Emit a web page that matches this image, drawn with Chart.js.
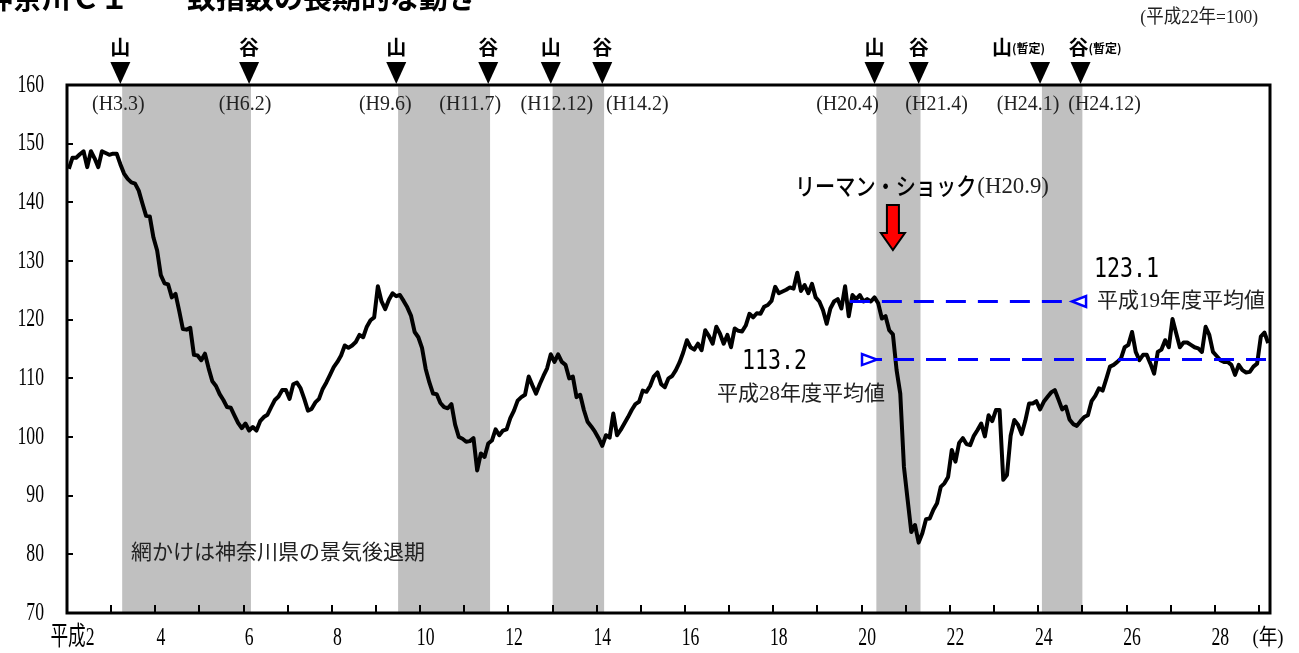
<!DOCTYPE html>
<html lang="ja">
<head>
<meta charset="utf-8">
<title>神奈川ＣＩ　一致指数の長期的な動き</title>
<script src="https://cdn.jsdelivr.net/npm/chart.js@4.4.0/dist/chart.umd.min.js"></script>
<style>
  html, body { margin: 0; padding: 0; background: #fff; }
</style>
</head>
<body>
<canvas id="ciChart" width="1299" height="653"></canvas>
<script>
// 神奈川ＣＩ一致指数（平成22年=100）月次、平成2年1月〜平成29年3月
const h02 = [145.7, 147.6, 147.6, 148.2, 148.7, 146.0, 148.7, 147.5, 146.0, 148.7, 148.4, 148.1];
const h03 = [148.3, 148.3, 146.5, 144.9, 144.0, 143.4, 143.2, 142.0, 139.8, 137.7, 137.6, 134.0];
const h04 = [131.8, 127.6, 126.2, 126.0, 123.8, 124.4, 121.5, 118.4, 118.3, 118.6, 114.0, 113.9];
const h05 = [113.1, 114.2, 111.7, 109.5, 108.7, 107.3, 106.3, 105.1, 105.0, 103.7, 102.4, 101.5];
const h06 = [102.3, 101.1, 101.7, 101.1, 102.7, 103.4, 103.8, 105.1, 106.3, 106.9, 108.0, 108.0];
const h07 = [106.5, 109.0, 109.3, 108.3, 106.5, 104.5, 104.8, 105.9, 106.5, 108.2, 109.3, 110.6];
const h08 = [111.9, 112.8, 113.9, 115.6, 115.2, 115.6, 116.2, 117.4, 117.0, 118.8, 119.9, 120.4];
const h09 = [125.7, 123.1, 121.8, 123.4, 124.5, 124.0, 124.2, 123.2, 122.1, 120.7, 117.9, 117.0];
const h10 = [115.2, 111.6, 109.3, 107.4, 107.3, 105.8, 105.1, 104.9, 105.6, 102.1, 100.0, 99.7];
const h11 = [99.2, 99.3, 99.8, 94.3, 97.2, 96.6, 98.9, 99.4, 101.3, 100.3, 101.1, 101.3];
const h12 = [103.2, 104.5, 106.2, 106.8, 107.2, 110.3, 108.8, 107.4, 109.0, 110.4, 111.7, 114.1];
const h13 = [112.8, 114.1, 112.8, 112.3, 110.0, 110.3, 106.8, 107.2, 104.6, 102.6, 101.8, 100.9];
const h14 = [99.8, 98.5, 100.3, 99.9, 104.0, 100.3, 101.2, 102.3, 103.4, 104.6, 105.6, 106.0];
const h15 = [107.9, 107.7, 108.7, 110.3, 111.0, 109.0, 108.5, 110.0, 110.4, 111.4, 112.7, 114.4];
const h16 = [116.5, 115.3, 114.9, 115.9, 114.8, 118.2, 117.2, 115.9, 118.8, 117.6, 115.9, 117.4];
const h17 = [115.3, 118.5, 118.1, 118.0, 119.0, 121.0, 120.4, 121.1, 121.0, 122.2, 122.5, 123.2];
const h18 = [125.6, 124.5, 124.8, 125.1, 125.5, 125.3, 128.0, 124.9, 125.9, 124.5, 126.1, 123.8];
const h19 = [123.1, 121.6, 119.3, 121.9, 123.1, 123.5, 121.9, 125.7, 120.6, 124.2, 123.5, 124.2];
const h20 = [123.1, 123.5, 123.1, 123.8, 122.8, 120.2, 120.6, 118.2, 117.5, 111.4, 107.4, 94.9];
const h21 = [89.3, 83.8, 85.0, 82.0, 83.6, 86.0, 86.1, 87.6, 88.7, 91.5, 92.1, 93.2];
const h22 = [97.8, 95.8, 99.0, 99.8, 98.8, 98.6, 100.2, 101.2, 102.3, 100.1, 103.7, 102.7];
const h23 = [104.6, 104.6, 92.7, 93.5, 100.2, 102.9, 102.1, 100.5, 102.8, 105.7, 105.7, 106.1];
const h24 = [104.7, 106.0, 106.8, 107.6, 108.0, 106.4, 104.7, 105.2, 103.0, 102.2, 101.9, 102.7];
const h25 = [103.4, 103.7, 106.1, 107.0, 108.3, 107.9, 109.9, 112.0, 112.3, 112.8, 113.4, 115.3];
const h26 = [115.7, 117.9, 114.5, 113.1, 114.0, 114.0, 112.5, 110.8, 114.5, 114.9, 116.5, 115.3];
const h27 = [120.1, 117.7, 115.3, 116.1, 116.1, 115.7, 115.3, 115.1, 114.5, 118.8, 117.4, 114.5];
const h28 = [113.8, 113.1, 112.8, 112.8, 112.3, 110.6, 112.3, 111.4, 111.0, 111.1, 112.0, 112.5];
const h29 = [117.1, 117.8, 116.0];

// 景気の山・谷（平成2年1月を0とする月番号）
const turnKinds = ['山', '谷', '山', '谷', '山', '谷', '山', '谷', '山', '谷'];
const turnDates = ['(H3.3)', '(H6.2)', '(H9.6)', '(H11.7)', '(H12.12)', '(H14.2)', '(H20.4)', '(H21.4)', '(H24.1)', '(H24.12)'];
const turnMonths = [14, 49, 89, 114, 131, 145, 219, 231, 264, 275];
const turnProvisional = [false, false, false, false, false, false, false, false, true, true];

// 年度平均値
const fyAverages = [123.1, 113.2];
const fyAverageNames = ['平成19年度平均値', '平成28年度平均値'];

// 軸
const yTicks = [70, 80, 90, 100, 110, 120, 130, 140, 150, 160];
const xLabelYears = [2, 4, 6, 8, 10, 12, 14, 16, 18, 20, 22, 24, 26, 28];
const lehmanMonth = 224; // H20.9

const ciValues = [].concat(h02, h03, h04, h05, h06, h07, h08, h09, h10, h11, h12, h13, h14,
  h15, h16, h17, h18, h19, h20, h21, h22, h23, h24, h25, h26, h27, h28, h29);

// layout of the average guide lines, in month units (start, end, arrow tip, arrow base)
const avgLineLayout = [
  { from: 212.3, to: 276.5, tip: 272.7, base: 276.5 },
  { from: 215.6, to: 326, tip: 219.7, base: 215.6 }
];
const dateShift = [-2, -4, -11, -18, 6, 35, -27, 18, -12, 24];

const SERIF = '"Liberation Serif", "Noto Sans CJK JP", serif';
const GOTHIC = '"Noto Sans CJK JP", sans-serif';

function drawText(ctx, text, x, y, font, opts = {}) {
  ctx.save();
  ctx.font = font;
  ctx.fillStyle = opts.color || '#000';
  ctx.textAlign = opts.align || 'left';
  ctx.textBaseline = opts.baseline || 'middle';
  ctx.translate(x, y);
  ctx.scale(opts.sx || 1, 1);
  ctx.fillText(text, 0, 0);
  ctx.restore();
}

const decorations = {
  id: 'decorations',
  beforeDatasetsDraw(chart) {
    const { ctx, chartArea: a, scales: { x } } = chart;
    // recession shading
    ctx.save();
    ctx.fillStyle = '#c0c0c0';
    for (let k = 0; k < turnMonths.length; k += 2) {
      const x0 = x.getPixelForValue(turnMonths[k] + 0.5);
      const x1 = x.getPixelForValue(turnMonths[k + 1] + 0.5);
      ctx.fillRect(x0, a.top, x1 - x0, a.bottom - a.top);
    }
    ctx.restore();
  },
  afterDatasetsDraw(chart) {
    const { ctx, chartArea: a, scales: { x, y } } = chart;

    // open arrow heads on the average lines
    ctx.save();
    ctx.strokeStyle = '#0000ff';
    ctx.fillStyle = '#fff';
    ctx.lineWidth = 2.5;
    avgLineLayout.forEach((l, k) => {
      const py = y.getPixelForValue(fyAverages[k]);
      const tx = x.getPixelForValue(l.tip);
      const bx = x.getPixelForValue(l.base);
      ctx.beginPath();
      ctx.moveTo(tx, py);
      ctx.lineTo(bx, py - 5.5);
      ctx.lineTo(bx, py + 5.5);
      ctx.closePath();
      ctx.fill();
      ctx.stroke();
    });
    ctx.restore();

    // plot frame
    ctx.save();
    ctx.strokeStyle = '#000';
    ctx.lineWidth = 3;
    ctx.strokeRect(a.left, a.top, a.right - a.left, a.bottom - a.top);

    // inward tick marks
    ctx.lineWidth = 2;
    ctx.beginPath();
    yTicks.slice(1, -1).forEach(v => {
      const py = Math.round(y.getPixelForValue(v));
      ctx.moveTo(a.left, py);
      ctx.lineTo(a.left + 6, py);
    });
    for (let yr = 3; yr <= 29; yr++) {
      const px = Math.round(x.getPixelForValue((yr - 2) * 12 - 0.5));
      ctx.moveTo(px, a.bottom);
      ctx.lineTo(px, a.bottom - 8);
    }
    ctx.stroke();
    ctx.restore();

    // axis labels
    yTicks.forEach(v => {
      drawText(ctx, String(v), a.left - 23, y.getPixelForValue(v), '26px ' + SERIF, { align: 'right', sx: 0.68 });
    });
    xLabelYears.forEach(yr => {
      const label = yr === 2 ? '平成2' : String(yr);
      drawText(ctx, label, x.getPixelForValue((yr - 2) * 12 + 1), a.bottom + 25, '26px ' + SERIF, { align: 'center', sx: 0.68 });
    });
    drawText(ctx, '(年)', 1268, a.bottom + 25, '22px ' + SERIF, { align: 'center', sx: 0.85 });

    // peaks and troughs above the plot
    turnMonths.forEach((m, k) => {
      const px = x.getPixelForValue(m);
      ctx.save();
      ctx.fillStyle = '#000';
      ctx.beginPath();
      ctx.moveTo(px - 10, a.top - 23);
      ctx.lineTo(px + 10, a.top - 23);
      ctx.lineTo(px, a.top - 1);
      ctx.closePath();
      ctx.fill();
      ctx.restore();
      if (turnProvisional[k]) {
        const lx = turnKinds[k] === '山' ? px - 38 : px - 2;
        drawText(ctx, turnKinds[k], lx, a.top - 38, 'bold 20px ' + GOTHIC, { align: 'center' });
        drawText(ctx, '(暫定)', lx + 10, a.top - 37, 'bold 12px ' + GOTHIC);
      } else {
        drawText(ctx, turnKinds[k], px, a.top - 38, 'bold 20px ' + GOTHIC, { align: 'center' });
      }
      drawText(ctx, turnDates[k], px + dateShift[k], a.top + 19, '21px ' + SERIF, { align: 'center', sx: 0.95, color: '#222' });
    });

    // Lehman shock arrow
    const lx = x.getPixelForValue(lehmanMonth);
    ctx.save();
    ctx.fillStyle = '#ff0000';
    ctx.strokeStyle = '#000';
    ctx.lineWidth = 2;
    ctx.beginPath();
    ctx.moveTo(lx - 6, 205);
    ctx.lineTo(lx + 6, 205);
    ctx.lineTo(lx + 6, 233);
    ctx.lineTo(lx + 12, 233);
    ctx.lineTo(lx, 250);
    ctx.lineTo(lx - 12, 233);
    ctx.lineTo(lx - 6, 233);
    ctx.closePath();
    ctx.fill();
    ctx.stroke();
    ctx.restore();
    ctx.save();
    ctx.font = '500 24px ' + GOTHIC;
    const kana = 'リーマン・ショック';
    const kanaW = ctx.measureText(kana).width * 0.84;
    ctx.restore();
    drawText(ctx, kana, lx - 98, 186, '500 24px ' + GOTHIC, { sx: 0.84 });
    drawText(ctx, '(H20.9)', lx - 98 + kanaW + 1, 187, '24px ' + SERIF, { sx: 0.95, color: '#222' });

    // average values
    drawText(ctx, String(fyAverages[0]), 1094, 270, '27px "DejaVu Sans Mono", monospace', { sx: 0.8 });
    drawText(ctx, fyAverageNames[0], 1097, 301, '21px ' + SERIF, { color: '#222' });
    drawText(ctx, String(fyAverages[1]), 742, 362, '27px "DejaVu Sans Mono", monospace', { sx: 0.8 });
    drawText(ctx, fyAverageNames[1], 717, 394, '21px ' + SERIF, { color: '#222' });

    drawText(ctx, '網かけは神奈川県の景気後退期', 131, 551, '21px ' + GOTHIC, { color: '#222' });

    // header texts
    drawText(ctx, '神奈川ＣＩ　一致指数の長期的な動き', -16, 9, 'bold 29px ' + GOTHIC, { baseline: 'alphabetic' });
    drawText(ctx, '(平成22年=100)', 1258, 18, '19px ' + SERIF, { align: 'right', sx: 0.92, color: '#222' });
  }
};

const ctx = document.getElementById('ciChart').getContext('2d');

const chart = new Chart(ctx, {
  type: 'line',
  data: {
    datasets: [
      {
        data: [{ x: avgLineLayout[0].from, y: fyAverages[0] }, { x: avgLineLayout[0].to, y: fyAverages[0] }],
        borderColor: '#0000ff',
        borderWidth: 3,
        borderDash: [20, 12],
        pointRadius: 0,
        order: 0
      },
      {
        data: [{ x: avgLineLayout[1].from, y: fyAverages[1] }, { x: avgLineLayout[1].to, y: fyAverages[1] }],
        borderColor: '#0000ff',
        borderWidth: 3,
        borderDash: [20, 12],
        pointRadius: 0,
        order: 0
      },
      {
        data: ciValues.map((v, i) => ({ x: i, y: v })),
        borderColor: '#000',
        borderWidth: 4,
        borderJoinStyle: 'round',
        pointRadius: 0,
        tension: 0,
        order: 1
      }
    ]
  },
  options: {
    responsive: false,
    animation: false,
    devicePixelRatio: 1,
    layout: { padding: { left: 67, right: 29, top: 85, bottom: 40 } },
    plugins: {
      legend: { display: false },
      tooltip: { enabled: false }
    },
    scales: {
      x: { type: 'linear', min: -0.5, max: 326.5, display: false },
      y: { type: 'linear', min: 70, max: 160, display: false }
    }
  },
  plugins: [decorations]
});
</script>
</body>
</html>
